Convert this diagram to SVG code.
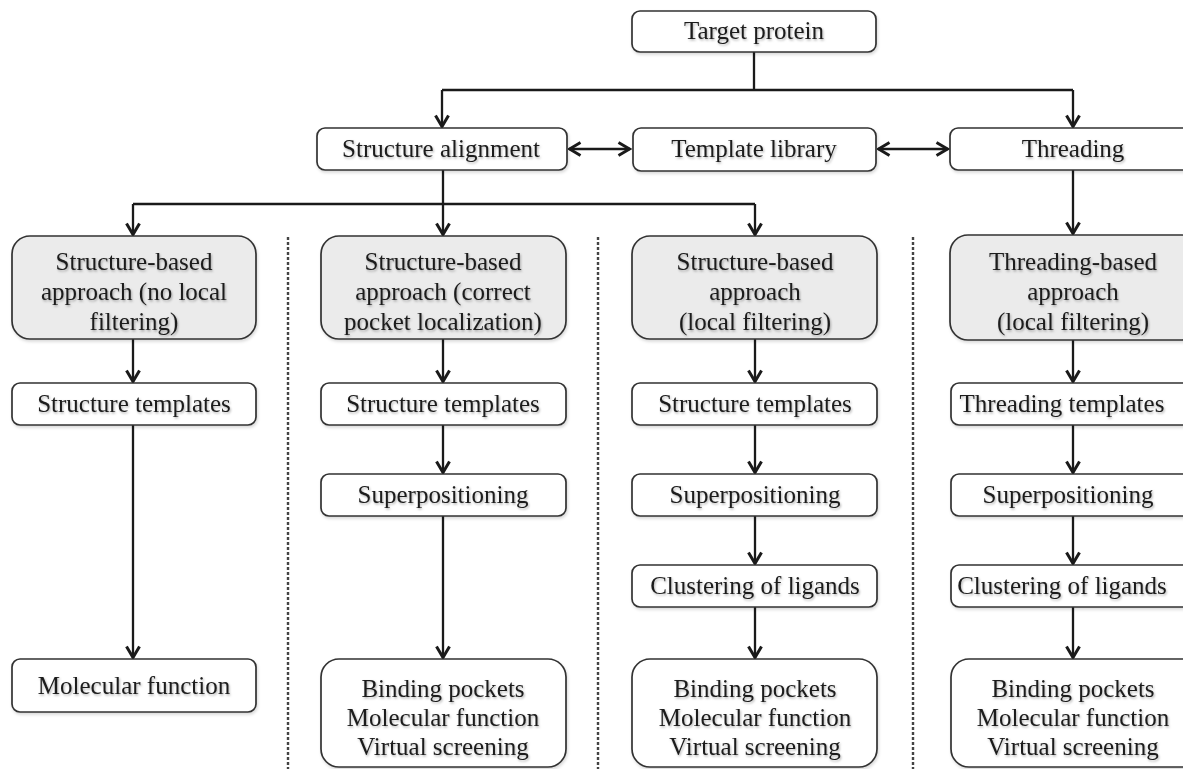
<svg xmlns="http://www.w3.org/2000/svg" width="1183" height="769" viewBox="0 0 1183 769" font-family="'Liberation Serif', 'Times New Roman', 'DejaVu Serif', serif">
<defs>
<marker id="ah" viewBox="0 0 16 16" refX="14.5" refY="8" markerWidth="16" markerHeight="16" markerUnits="userSpaceOnUse" orient="auto-start-reverse">
<path d="M3,1.5 L14,8 L3,14.5" fill="none" stroke="#1a1a1a" stroke-width="3" stroke-linejoin="miter"/>
</marker>
<filter id="sh" x="-10%" y="-10%" width="120%" height="130%">
<feDropShadow dx="1" dy="2" stdDeviation="1.5" flood-color="#000" flood-opacity="0.15"/>
</filter>
<filter id="tsh" x="-5%" y="-20%" width="110%" height="150%">
<feDropShadow dx="1" dy="1.5" stdDeviation="1" flood-color="#000" flood-opacity="0.3"/>
</filter>
</defs>
<style>
.box{fill:#fff;stroke:#333;stroke-width:1.7;filter:url(#sh)}
.gbox{fill:#ebebeb;stroke:#333;stroke-width:1.7;filter:url(#sh)}
text{font-family:'Liberation Serif','Times New Roman','DejaVu Serif',serif;font-size:25px;fill:#1c1c1c;text-anchor:middle;filter:url(#tsh)}
.c{fill:none;stroke:#1a1a1a;stroke-width:2.3}
.a{marker-end:url(#ah)}
.d{marker-start:url(#ah);marker-end:url(#ah)}
.dash{stroke:#444;stroke-width:2.4;stroke-dasharray:3 2;fill:none}
</style>
<rect width="1183" height="769" fill="#fff"/>
<g id="dividers">
<line class="dash" x1="288" y1="237" x2="288" y2="769"/>
<line class="dash" x1="598" y1="237" x2="598" y2="769"/>
<line class="dash" x1="913" y1="237" x2="913" y2="769"/>
</g>
<g id="connectors">
<path class="c" d="M754,52 V90 M442,90 H1073"/>
<path class="c a" d="M442,90 V127"/>
<path class="c a" d="M1073,90 V127"/>
<path class="c d" d="M569,149 H630"/>
<path class="c d" d="M878,149 H948"/>
<path class="c" d="M133,204 H755"/>
<path class="c a" d="M133,204 V235"/>
<path class="c a" d="M443,170 V235"/>
<path class="c a" d="M755,204 V235"/>
<path class="c a" d="M1073,170 V234"/>
<path class="c a" d="M133,339 V382"/>
<path class="c a" d="M443,339 V382"/>
<path class="c a" d="M755,339 V382"/>
<path class="c a" d="M1073,340 V382"/>
<path class="c a" d="M133,425 V658"/>
<path class="c a" d="M443,425 V473"/>
<path class="c a" d="M443,516 V658"/>
<path class="c a" d="M755,425 V473"/>
<path class="c a" d="M755,516 V564"/>
<path class="c a" d="M755,607 V658"/>
<path class="c a" d="M1073,425 V473"/>
<path class="c a" d="M1073,516 V564"/>
<path class="c a" d="M1073,607 V658"/>
</g>
<g id="target-protein"><rect class="box" x="632" y="11" width="244" height="41" rx="8"/><text x="754" y="39">Target protein</text></g>
<g id="structure-alignment"><rect class="box" x="317" y="128" width="250" height="42" rx="8"/><text x="441" y="157">Structure alignment</text></g>
<g id="template-library"><rect class="box" x="633" y="128" width="243" height="43" rx="8"/><text x="754" y="157">Template library</text></g>
<g id="threading"><rect class="box" x="950" y="128" width="250" height="42" rx="8"/><text x="1073" y="157">Threading</text></g>

<g id="approach-1"><rect class="gbox" x="12" y="236" width="244" height="103" rx="18"/><text x="134" y="270">Structure-based</text><text x="134" y="300">approach (no local</text><text x="134" y="330">filtering)</text></g>
<g id="approach-2"><rect class="gbox" x="321" y="236" width="245" height="103" rx="18"/><text x="443" y="270">Structure-based</text><text x="443" y="300">approach (correct</text><text x="443" y="330">pocket localization)</text></g>
<g id="approach-3"><rect class="gbox" x="632" y="236" width="245" height="103" rx="18"/><text x="755" y="270">Structure-based</text><text x="755" y="300">approach</text><text x="755" y="330">(local filtering)</text></g>
<g id="approach-4"><rect class="gbox" x="950" y="235" width="250" height="105" rx="18"/><text x="1073" y="270">Threading-based</text><text x="1073" y="300">approach</text><text x="1073" y="330">(local filtering)</text></g>

<g id="templates-1"><rect class="box" x="12" y="383" width="244" height="42" rx="8"/><text x="134" y="412">Structure templates</text></g>
<g id="templates-2"><rect class="box" x="321" y="383" width="245" height="42" rx="8"/><text x="443" y="412">Structure templates</text></g>
<g id="templates-3"><rect class="box" x="632" y="383" width="245" height="42" rx="8"/><text x="755" y="412">Structure templates</text></g>
<g id="templates-4"><rect class="box" x="951" y="383" width="250" height="42" rx="8"/><text x="1062" y="412">Threading templates</text></g>

<g id="superpos-2"><rect class="box" x="321" y="474" width="245" height="42" rx="8"/><text x="443" y="503">Superpositioning</text></g>
<g id="superpos-3"><rect class="box" x="632" y="474" width="245" height="42" rx="8"/><text x="755" y="503">Superpositioning</text></g>
<g id="superpos-4"><rect class="box" x="951" y="474" width="250" height="42" rx="8"/><text x="1068" y="503">Superpositioning</text></g>

<g id="cluster-3"><rect class="box" x="632" y="565" width="245" height="42" rx="8"/><text x="755" y="594">Clustering of ligands</text></g>
<g id="cluster-4"><rect class="box" x="951" y="565" width="250" height="42" rx="8"/><text x="1062" y="594">Clustering of ligands</text></g>

<g id="molecular-function-1"><rect class="box" x="12" y="659" width="244" height="53" rx="8"/><text x="134" y="694">Molecular function</text></g>
<g id="results-2"><rect class="box" x="321" y="659" width="245" height="108" rx="18"/><text x="443" y="697">Binding pockets</text><text x="443" y="726">Molecular function</text><text x="443" y="755">Virtual screening</text></g>
<g id="results-3"><rect class="box" x="632" y="659" width="245" height="108" rx="18"/><text x="755" y="697">Binding pockets</text><text x="755" y="726">Molecular function</text><text x="755" y="755">Virtual screening</text></g>
<g id="results-4"><rect class="box" x="951" y="659" width="250" height="108" rx="18"/><text x="1073" y="697">Binding pockets</text><text x="1073" y="726">Molecular function</text><text x="1073" y="755">Virtual screening</text></g>
</svg>
